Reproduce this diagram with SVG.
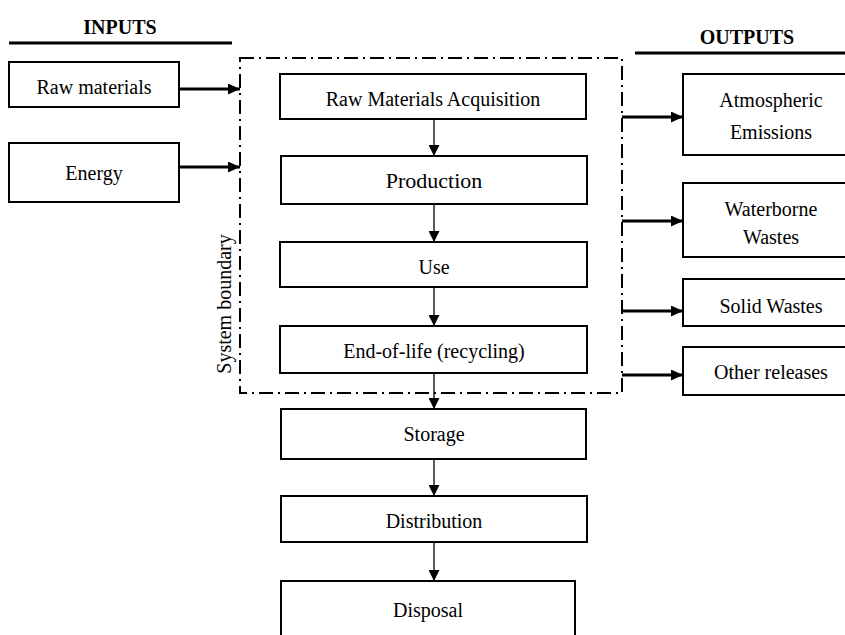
<svg xmlns="http://www.w3.org/2000/svg" width="845" height="635" viewBox="0 0 845 635">
<style>
.box{fill:#fff;stroke:#000;stroke-width:2}
.t{font-family:"Liberation Serif","Times New Roman",serif;font-size:20px;fill:#000;text-anchor:middle}
.h{font-weight:bold}
.thin{stroke:#000;stroke-width:1.3;fill:none}
.thick{stroke:#000;stroke-width:3;fill:none}
.bound{fill:none;stroke:#000;stroke-width:2;stroke-dasharray:14 5 2 5}
</style>
<defs>
<marker id="ah" markerWidth="11" markerHeight="11" viewBox="0 0 11 11" refX="11" refY="5.5" orient="auto" markerUnits="userSpaceOnUse">
<path d="M0,0 L11,5.5 L0,11 Z" fill="#000"/>
</marker>
<marker id="ahb" markerWidth="12" markerHeight="11" viewBox="0 0 12 11" refX="12" refY="5.5" orient="auto" markerUnits="userSpaceOnUse">
<path d="M0,0 L12,5.5 L0,11 Z" fill="#000"/>
</marker>
</defs>
<rect width="845" height="635" fill="#fff"/>

<g id="headers">
<text class="t h" x="120" y="34">INPUTS</text>
<line x1="9" y1="43" x2="232" y2="43" stroke="#000" stroke-width="3"/>
<text class="t h" x="747" y="44">OUTPUTS</text>
<line x1="635" y1="53" x2="845" y2="53" stroke="#000" stroke-width="3"/>
</g>

<g id="system-boundary">
<rect class="bound" x="240" y="58" width="382" height="335"/>
<text class="t" transform="translate(231,304) rotate(-90)">System boundary</text>
</g>

<g id="connectors">
<line class="thick" x1="179" y1="89" x2="240" y2="89" marker-end="url(#ahb)"/>
<line class="thick" x1="179" y1="167" x2="240" y2="167" marker-end="url(#ahb)"/>
<line class="thin" x1="434" y1="119" x2="434" y2="156" marker-end="url(#ah)"/>
<line class="thin" x1="434" y1="204" x2="434" y2="242" marker-end="url(#ah)"/>
<line class="thin" x1="434" y1="287" x2="434" y2="326" marker-end="url(#ah)"/>
<line class="thin" x1="434" y1="373" x2="434" y2="409" marker-end="url(#ah)"/>
<line class="thin" x1="434" y1="459" x2="434" y2="496" marker-end="url(#ah)"/>
<line class="thin" x1="434" y1="542" x2="434" y2="581" marker-end="url(#ah)"/>
<line class="thick" x1="622" y1="117" x2="683" y2="117" marker-end="url(#ahb)"/>
<line class="thick" x1="622" y1="221" x2="683" y2="221" marker-end="url(#ahb)"/>
<line class="thick" x1="622" y1="311" x2="683" y2="311" marker-end="url(#ahb)"/>
<line class="thick" x1="622" y1="375" x2="683" y2="375" marker-end="url(#ahb)"/>
</g>

<g id="raw-materials">
<rect class="box" x="9" y="62" width="170" height="45"/>
<text class="t" x="94" y="94">Raw materials</text>
</g>
<g id="energy">
<rect class="box" x="9" y="143" width="170" height="59"/>
<text class="t" x="94" y="180">Energy</text>
</g>

<g id="raw-materials-acquisition">
<rect class="box" x="280" y="74" width="306" height="45"/>
<text class="t" x="433" y="106">Raw Materials Acquisition</text>
</g>
<g id="production">
<rect class="box" x="281" y="156" width="306" height="48"/>
<text class="t" x="434" y="188" style="font-size:22px">Production</text>
</g>
<g id="use">
<rect class="box" x="280" y="242" width="307" height="45"/>
<text class="t" x="434" y="274">Use</text>
</g>
<g id="end-of-life">
<rect class="box" x="280" y="326" width="307" height="47"/>
<text class="t" x="434" y="358">End-of-life (recycling)</text>
</g>
<g id="storage">
<rect class="box" x="281" y="409" width="305" height="50"/>
<text class="t" x="434" y="441">Storage</text>
</g>
<g id="distribution">
<rect class="box" x="281" y="496" width="306" height="46"/>
<text class="t" x="434" y="528">Distribution</text>
</g>
<g id="disposal">
<rect class="box" x="281" y="581" width="294" height="70"/>
<text class="t" x="428" y="617">Disposal</text>
</g>

<g id="atmospheric-emissions">
<rect class="box" x="683" y="74" width="180" height="81"/>
<text class="t" x="771" y="107">Atmospheric</text>
<text class="t" x="771" y="139">Emissions</text>
</g>
<g id="waterborne-wastes">
<rect class="box" x="683" y="183" width="180" height="74"/>
<text class="t" x="771" y="216">Waterborne</text>
<text class="t" x="771" y="244">Wastes</text>
</g>
<g id="solid-wastes">
<rect class="box" x="683" y="279" width="180" height="47"/>
<text class="t" x="771" y="313">Solid Wastes</text>
</g>
<g id="other-releases">
<rect class="box" x="683" y="347" width="180" height="48"/>
<text class="t" x="771" y="379">Other releases</text>
</g>
</svg>
